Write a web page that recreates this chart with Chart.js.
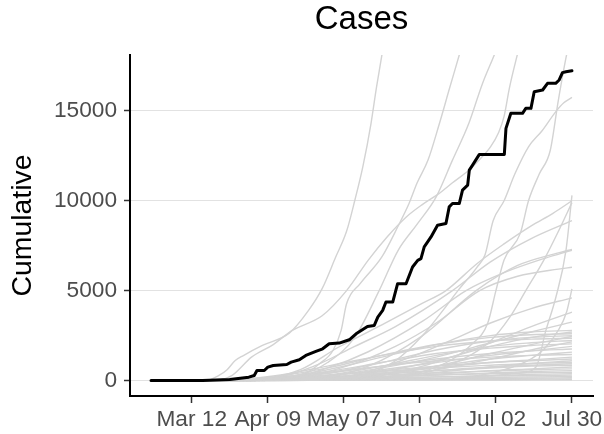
<!DOCTYPE html>
<html><head><meta charset="utf-8">
<script src="https://cdn.jsdelivr.net/npm/chart.js@4.4.1/dist/chart.umd.min.js"></script>
<style>html,body{margin:0;padding:0;background:#fff;}</style>
</head><body>
<canvas id="c" width="604" height="434"></canvas>
<script>
// ---- tick labels (day 0 = Feb 26) ----
const tickDays = [15, 43, 71, 99, 127, 155];
const tickLabels = ["Mar 12", "Apr 09", "May 07", "Jun 04", "Jul 02", "Jul 30"];
const yTickValues = [0, 5000, 10000, 15000];

// ---- highlighted series (black) ----
const focusDays = [0,19,29,36,38,39,41.7,43,45,50,51.6,54.6,57,60.7,63.2,65.6,69.3,73,75.5,79.7,82.2,83.5,85.3,86.5,89,90.8,93.9,96.3,98.2,99.4,100.6,103.1,105.5,108.6,109.8,111,113.5,114.7,116.6,117.2,118.4,120.9,130.1,130.7,132.5,136.8,138,139.9,141.1,144.2,146,149,150.3,151.5,152.8,155];
const focusValues = [0,0,55,185,280,557,557,743,836,892,1020,1152,1393,1616,1765,2044,2081,2267,2601,3010,3066,3530,3902,4366,4366,5388,5388,6317,6689,6782,7431,7988,8640,8733,9661,9847,9847,10591,10869,11705,11984,12580,12580,14030,14866,14866,15144,15144,16070,16165,16538,16538,16722,17129,17180,17240];

// ---- large grey series ----
const greyA_days = [0,20,25,28,31,34,41,51,58,63,68,72,75,78,81,83,85,88];
const greyA_vals = [0,0,280,600,1110,1390,1950,2650,3900,5110,6870,8300,10000,11900,14300,16300,18100,21000];
const greyB_days = [0,25,30,37,45,52,63,72,80,87,94,100,106,111,117,121,125,128,130,132,135,138];
const greyB_vals = [0,50,300,1300,2000,2790,3600,5000,6700,8000,9100,9800,10400,11000,11700,12300,13000,13800,14700,16300,18200,20000];
const greyC_days = [0,40,50,58,62,67,70,72,77,85,91,95,98,102,106,110,113.5,117];
const greyC_vals = [0,50,200,500,930,1670,2790,4270,5390,6875,8600,9850,11000,12263,14200,16300,18115,20000];
const greyD_days = [0,45,55,65,75,84,91,98,105,111,117,122,126.4,130];
const greyD_vals = [0,50,300,1000,2400,5000,7246,8700,10219,12263,14300,16500,18115,19500];
const greyE_days = [0,60,80,90,100,108,113,120,123,126,130,134,139,144,149,152,155];
const greyE_vals = [0,80,400,1100,2500,4000,5000,6300,7000,8900,10000,11500,13000,13900,14950,15450,15750];
const greyF_days = [0,80,100,110,118,124,127,130,136,139,143,147,150,153,156];
const greyF_vals = [0,100,500,1100,2000,3200,5000,6700,8200,10000,11500,12800,15600,18100,20000];
const greyH_days = [0,100,120,135,141.7,145.4,149.1,152.8,155];
const greyH_vals = [0,50,200,400,743,2787,4645,7246,10300];
const greyX_days = [0,80,100,115,125,132,138,145,150,155];
const greyX_vals = [0,100,400,1200,2200,3500,5000,6800,8300,9900];
const greyI_days = [0,40,55,69,85,100,108.6,120,130,140,148,155];
const greyI_vals = [0,100,600,1850,3100,4300,5000,6500,7600,8600,9300,10000];
const greyJ_days = [0,45,60,75,90,111,125,140,155];
const greyJ_vals = [0,150,800,1900,3000,5000,6600,7900,8900];
const greyK_days = [0,50,65,80,100,116,130,145,155];
const greyK_vals = [0,150,700,1600,3300,5000,6000,6800,7250];
const greyL_days = [0,50,70,90,105,121,135,150,155];
const greyL_vals = [0,100,700,1900,3200,5000,5800,6200,6300];
const greyL2_days = [0,60,80,100,119.7,135,150,155];
const greyL2_vals = [0,100,800,2500,5000,6400,7100,7300];
const greyM_days = [0,110,130,140,145,150,153,155];
const greyM_vals = [0,100,600,1200,1800,2800,3800,5100];
const greyN_days = [0,70,90,110,125,140,155];
const greyN_vals = [0,200,1000,2200,3200,4000,4600];
const greyO_days = [0,80,100,120,140,155];
const greyO_vals = [0,200,800,1800,3000,3800];

// ---- low bundle of grey series ----
const bundleDays = [0,25,45,65,85,105,125,140,155];
const bundleSeries = [
  [0,0,50,250,700,1300,2100,2700,3250],
  [0,0,100,600,1300,2000,2500,2700,2790],
  [0,0,30,150,500,1100,1900,2400,2700],
  [0,10,200,700,1400,2000,2400,2550,2600],
  [0,0,80,400,1000,1700,2200,2400,2500],
  [0,0,20,100,300,800,1500,2000,2450],
  [0,20,250,800,1400,1900,2200,2300,2350],
  [0,0,60,300,800,1400,1900,2100,2230],
  [0,0,10,50,200,600,1200,1700,2150],
  [0,5,150,500,1000,1500,1800,1950,2040],
  [0,0,40,250,600,1000,1400,1650,1900],
  [0,0,100,400,800,1200,1500,1650,1750],
  [0,0,20,150,400,800,1200,1400,1580],
  [0,10,150,450,800,1100,1300,1400,1450],
  [0,0,30,150,400,700,1000,1150,1300],
  [0,0,80,300,550,800,1000,1100,1200],
  [0,0,10,60,200,450,750,950,1100],
  [0,5,100,300,500,700,850,950,1000],
  [0,0,30,150,350,550,750,850,930],
  [0,0,50,200,400,550,700,800,850],
  [0,0,10,80,200,350,550,650,750],
  [0,0,40,150,300,420,530,600,650],
  [0,0,20,80,180,300,420,500,550],
  [0,0,30,120,220,300,380,430,460],
  [0,0,10,50,120,200,280,340,380],
  [0,0,20,80,150,200,250,280,300],
  [0,0,5,30,80,130,170,200,220],
  [0,0,10,40,70,100,120,140,150],
  [0,0,0,20,40,55,70,80,90],
  [0,0,0,10,20,25,30,35,40]
];

const greyPairs = [
  [greyA_days, greyA_vals], [greyB_days, greyB_vals], [greyC_days, greyC_vals],
  [greyD_days, greyD_vals], [greyE_days, greyE_vals], [greyF_days, greyF_vals],
  [greyH_days, greyH_vals], [greyX_days, greyX_vals], [greyI_days, greyI_vals],
  [greyJ_days, greyJ_vals], [greyK_days, greyK_vals], [greyL_days, greyL_vals],
  [greyL2_days, greyL2_vals], [greyM_days, greyM_vals], [greyN_days, greyN_vals],
  [greyO_days, greyO_vals]
];
bundleSeries.forEach(v => greyPairs.push([bundleDays, v]));

const toPts = (d, v) => d.map((x, i) => ({x: x, y: v[i]}));

const datasets = [{
  data: toPts(focusDays, focusValues),
  borderColor: '#000000', borderWidth: 3, pointRadius: 0, tension: 0, fill: false,
  borderJoinStyle: 'round', borderCapStyle: 'round'
}];
greyPairs.forEach(p => datasets.push({
  data: toPts(p[0], p[1]),
  borderColor: '#d3d3d3', borderWidth: 1.4, pointRadius: 0, fill: false,
  cubicInterpolationMode: 'monotone', borderJoinStyle: 'round'
}));

const FONT = "'Liberation Sans', Arial, Helvetica, sans-serif";

new Chart(document.getElementById('c'), {
  type: 'line',
  data: { datasets },
  options: {
    responsive: false,
    animation: false,
    layout: { padding: { left: 0, right: 11, top: 0, bottom: 0 } },
    plugins: {
      legend: { display: false },
      tooltip: { enabled: false },
      title: {
        display: true, text: 'Cases', fullSize: false, color: '#000',
        font: { family: FONT, size: 33, weight: 'normal', lineHeight: 1.2 },
        padding: { top: 0, bottom: 15.4 }
      }
    },
    scales: {
      x: {
        type: 'linear', min: -7.75, max: 162.75,
        afterBuildTicks: s => { s.ticks = tickDays.map(v => ({ value: v })); },
        afterFit: s => { s.height = 38; s.paddingLeft = 0; s.paddingRight = 0; },
        ticks: {
          autoSkip: false, maxRotation: 0, minRotation: 0, padding: 3,
          color: '#4d4d4d', font: { family: FONT, size: 22.7 },
          callback: v => { const i = tickDays.indexOf(v); return i >= 0 ? tickLabels[i] : ''; }
        },
        grid: { drawOnChartArea: false, drawTicks: true, tickLength: 7, tickColor: '#333333', tickWidth: 1.5 },
        border: { display: true, color: '#000000', width: 2 }
      },
      y: {
        type: 'linear', min: -862, max: 18112,
        afterBuildTicks: s => { s.ticks = yTickValues.map(v => ({ value: v })); },
        afterFit: s => { s.width = 130; },
        ticks: {
          padding: 7, color: '#4d4d4d', font: { family: FONT, size: 22.7 },
          callback: v => String(v)
        },
        grid: { color: '#e2e2e2', lineWidth: 1, drawTicks: true, tickLength: 6, tickColor: '#333333', tickWidth: 1.5 },
        border: { display: true, color: '#000000', width: 2 },
        title: {
          display: true, text: 'Cumulative', color: '#000',
          font: { family: FONT, size: 28.4, weight: 'normal', lineHeight: 1.2 },
          padding: { top: 6, bottom: 0 }
        }
      }
    }
  }
});
</script>
</body></html>
